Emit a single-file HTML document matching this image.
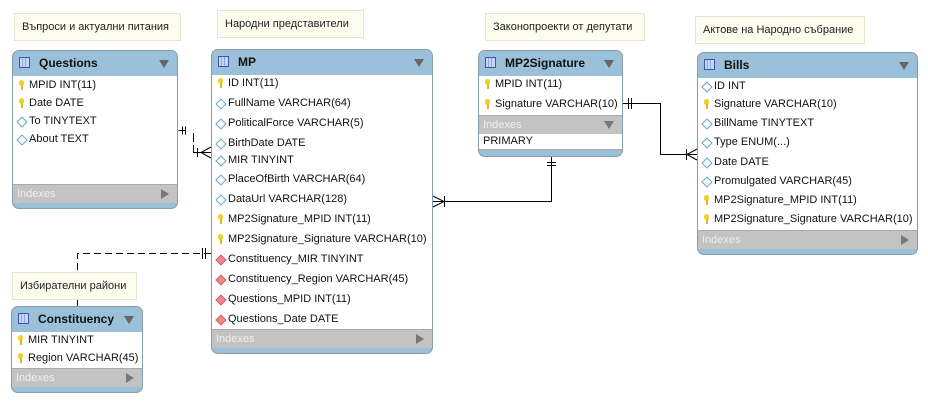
<!DOCTYPE html>
<html><head><meta charset="utf-8"><style>
body{margin:0;width:928px;height:403px;background:#fff;position:relative;overflow:hidden;font-family:"Liberation Sans","DejaVu Sans",sans-serif;}
.note{position:absolute;background:#fdfdef;border:1px solid #e6e6cf;font-size:11px;color:#222;line-height:27px;padding-left:7px;box-sizing:border-box;height:28px;}
.t{position:absolute;border:1px solid #8a9aa6;border-radius:7px;overflow:hidden;background:#9bc0da;box-sizing:border-box;}
.h{position:absolute;left:0;right:0;top:0;height:25px;background:#9bc0da;border-bottom:1px solid #7e9db3;}
.h b{position:absolute;left:26px;top:5px;font-size:12px;color:#111;}
.ic{position:absolute;left:6px;top:6px;width:11px;height:11px;border:1px solid #3c55a8;background:linear-gradient(90deg,#c9d5f3 0 2px,#8fa6e6 2px 3px,#c9d5f3 3px 5px,#8fa6e6 5px 6px,#c9d5f3 6px);box-sizing:border-box;}
.ar{position:absolute;right:8px;top:9px;width:0;height:0;border-left:5px solid transparent;border-right:5px solid transparent;border-top:8px solid #666;}
.bd{position:absolute;left:0;right:0;top:25px;background:#fff;}
.r{position:absolute;left:0;font-size:11px;line-height:16px;height:16px;padding-left:16px;color:#111;white-space:nowrap;}
.k:before{content:"";position:absolute;left:6px;top:3px;width:5px;height:6px;border-radius:3px;background:#f2cf2a;}
.k:after{content:"";position:absolute;left:8px;top:8px;width:2px;height:5px;background:#e0b81c;}
.d:before{content:"";position:absolute;left:5px;top:5px;width:6px;height:6px;border:1px solid #5fa6c0;background:#fff;transform:rotate(45deg);}
.f:before{content:"";position:absolute;left:5px;top:5px;width:6px;height:6px;border:1px solid #c66;background:#e88;transform:rotate(45deg);}
.ix{position:absolute;left:0;right:0;height:18px;background:#c3c3c3;color:#eee;font-size:11px;line-height:18px;padding-left:4px;border-top:1px solid #aaa;}
.ix i{position:absolute;right:8px;top:4px;width:0;height:0;border-top:5px solid transparent;border-bottom:5px solid transparent;border-left:8px solid #777;}
.ix u{position:absolute;right:8px;top:5px;width:0;height:0;border-left:5px solid transparent;border-right:5px solid transparent;border-top:8px solid #777;}
</style></head><body>

<svg width="928" height="403" style="position:absolute;left:0;top:0" fill="none" stroke="#000" stroke-width="1">
<path d="M178.5 130.5H186M182.5 126.5v8M185.5 126.5v8"/>
<path d="M193.5 133v9M193.5 145v7.5H211M197.5 148v9M211 147l-10 5.5 10 5.5"/>
<path d="M433 201.5H551.5V157"/>
<path d="M433 196l11 5.5-11 5.5M444.5 196v11M547 162.5h9M547 165.5h9"/>
<path d="M623 103.5H660.5V154.5H697"/>
<path d="M628.5 98v11M631.5 98v11M697 149l-10 5.5 10 5.5M686.5 149v11"/>
<path d="M211 253.5H77.5V272" stroke-dasharray="7,4"/>
<path d="M202.5 248v11M205.5 248v11"/>
<path d="M77.5 299v7M74 299.5h7"/>
</svg>

<div class="note" style="left:14px;top:13px;width:167px">Въпроси и актуални питания</div>
<div class="note" style="left:217px;top:10px;width:147px">Народни представители</div>
<div class="note" style="left:485px;top:13px;width:160px">Законопроекти от депутати</div>
<div class="note" style="left:695px;top:16px;width:170px">Актове на Народно събрание</div>
<div class="note" style="left:12px;top:272px;width:125px">Избирателни райони</div>

<div class="t" style="left:12px;top:50px;width:166px;height:159px">
<div class="h"><span class="ic"></span><b>Questions</b><span class="ar"></span></div>
<div class="bd" style="height:108px"></div>
<div class="r k" style="top:26px">MPID INT(11)</div>
<div class="r k" style="top:44px">Date DATE</div>
<div class="r d" style="top:62px">To TINYTEXT</div>
<div class="r d" style="top:80px">About TEXT</div>
<div class="ix" style="top:133px">Indexes<i></i></div>
</div>

<div class="t" style="left:211px;top:49px;width:222px;height:305px">
<div class="h"><span class="ic"></span><b>MP</b><span class="ar"></span></div>
<div class="bd" style="height:254px"></div>
<div class="r k" style="top:25px">ID INT(11)</div>
<div class="r d" style="top:45px">FullName VARCHAR(64)</div>
<div class="r d" style="top:65px">PoliticalForce VARCHAR(5)</div>
<div class="r d" style="top:85px">BirthDate DATE</div>
<div class="r d" style="top:102px">MIR TINYINT</div>
<div class="r d" style="top:121px">PlaceOfBirth VARCHAR(64)</div>
<div class="r d" style="top:141px">DataUrl VARCHAR(128)</div>
<div class="r k" style="top:161px">MP2Signature_MPID INT(11)</div>
<div class="r k" style="top:181px">MP2Signature_Signature VARCHAR(10)</div>
<div class="r f" style="top:201px">Constituency_MIR TINYINT</div>
<div class="r f" style="top:221px">Constituency_Region VARCHAR(45)</div>
<div class="r f" style="top:241px">Questions_MPID INT(11)</div>
<div class="r f" style="top:261px">Questions_Date DATE</div>
<div class="ix" style="top:279px">Indexes<i></i></div>
</div>

<div class="t" style="left:478px;top:50px;width:145px;height:107px">
<div class="h"><span class="ic"></span><b>MP2Signature</b><span class="ar"></span></div>
<div class="bd" style="height:73px"></div>
<div class="r k" style="top:25px">MPID INT(11)</div>
<div class="r k" style="top:45px">Signature VARCHAR(10)</div>
<div class="ix" style="top:64px">Indexes<u></u></div>
<div class="r" style="top:82px;padding-left:4px">PRIMARY</div>
<div style="position:absolute;left:0;right:0;top:98px;border-top:1px solid #aaa"></div>
</div>

<div class="t" style="left:697px;top:52px;width:221px;height:203px">
<div class="h"><span class="ic"></span><b>Bills</b><span class="ar"></span></div>
<div class="bd" style="height:152px"></div>
<div class="r d" style="top:25px">ID INT</div>
<div class="r k" style="top:43px">Signature VARCHAR(10)</div>
<div class="r d" style="top:62px">BillName TINYTEXT</div>
<div class="r d" style="top:81px">Type ENUM(...)</div>
<div class="r d" style="top:101px">Date DATE</div>
<div class="r d" style="top:120px">Promulgated VARCHAR(45)</div>
<div class="r k" style="top:139px">MP2Signature_MPID INT(11)</div>
<div class="r k" style="top:158px">MP2Signature_Signature VARCHAR(10)</div>
<div class="ix" style="top:177px">Indexes<i></i></div>
</div>

<div class="t" style="left:11px;top:306px;width:132px;height:87px">
<div class="h"><span class="ic"></span><b>Constituency</b><span class="ar"></span></div>
<div class="bd" style="height:36px"></div>
<div class="r k" style="top:25px">MIR TINYINT</div>
<div class="r k" style="top:43px">Region VARCHAR(45)</div>
<div class="ix" style="top:61px">Indexes<i></i></div>
</div>

</body></html>
